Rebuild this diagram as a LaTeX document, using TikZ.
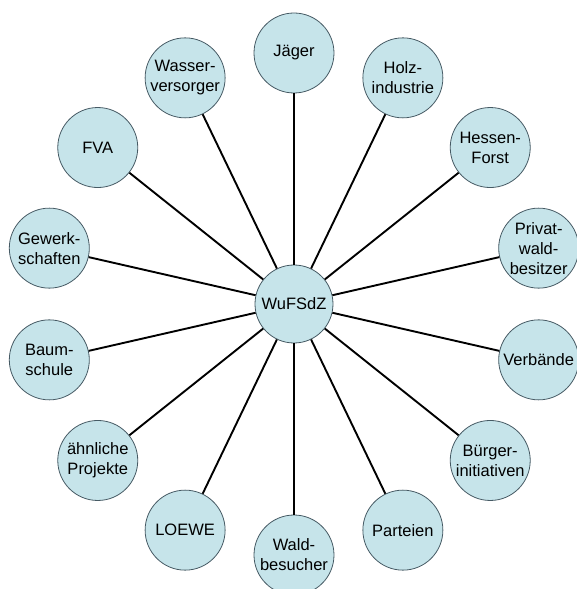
\documentclass[tikz,border=0pt]{standalone}
\usepackage{fontspec}
\setmainfont{Liberation Sans}
\usepackage{tikz}
\definecolor{nodefill}{RGB}{198,228,234}
\definecolor{nodeline}{RGB}{70,90,100}
\tikzset{
  partner/.style={circle,draw=nodeline,fill=nodefill,line width=0.8pt,minimum size=80pt,inner sep=0pt,align=center,font=\fontsize{16.5}{20}\selectfont},
  hub/.style={partner,minimum size=78pt},
  link/.style={line width=1.9pt}
}
\begin{document}
\begin{tikzpicture}
\useasboundingbox (-294pt,-285pt) rectangle (282pt,304pt);
% Centre
\node[hub] (wufsdz) at (0,0) {WuFSdZ};
% Right half
\node[partner] (jaeger) at (90:251pt) {Jäger};
\node[partner] (holz) at (64.29:251pt) {Holz-\\industrie};
\node[partner] (hessen) at (38.57:251pt) {Hessen-\\Forst};
\node[partner] (privat) at (12.86:251pt) {Privat-\\wald-\\besitzer};
\node[partner] (verbaende) at (-12.86:251pt) {Verbände};
\node[partner] (buerger) at (-38.57:251pt) {Bürger-\\initiativen};
\node[partner] (parteien) at (-64.29:251pt) {Parteien};
% Left half
\node[partner] (wald) at (-90:251pt) {Wald-\\besucher};
\node[partner] (loewe) at (-115.71:251pt) {LOEWE};
\node[partner] (projekte) at (-141.43:251pt) {ähnliche\\Projekte};
\node[partner] (baum) at (-167.14:251pt) {Baum-\\schule};
\node[partner] (gewerk) at (167.14:251pt) {Gewerk-\\schaften};
\node[partner] (fva) at (141.43:251pt) {FVA};
\node[partner] (wasser) at (115.71:251pt) {Wasser-\\versorger};
% Links
\draw[link] (wufsdz) -- (jaeger); % top line
\draw[link] (wufsdz) -- (holz);
\draw[link] (wufsdz) -- (hessen);
\draw[link] (wufsdz) -- (privat);
\draw[link] (wufsdz) -- (verbaende);
\draw[link] (wufsdz) -- (buerger);
\draw[link] (wufsdz) -- (parteien);
\draw[link] (wufsdz) -- (wald); % bottom line
\draw[link] (wufsdz) -- (loewe);
\draw[link] (wufsdz) -- (projekte);
\draw[link] (wufsdz) -- (baum);
\draw[link] (wufsdz) -- (gewerk);
\draw[link] (wufsdz) -- (fva);
\draw[link] (wufsdz) -- (wasser);
\end{tikzpicture}
\end{document}
